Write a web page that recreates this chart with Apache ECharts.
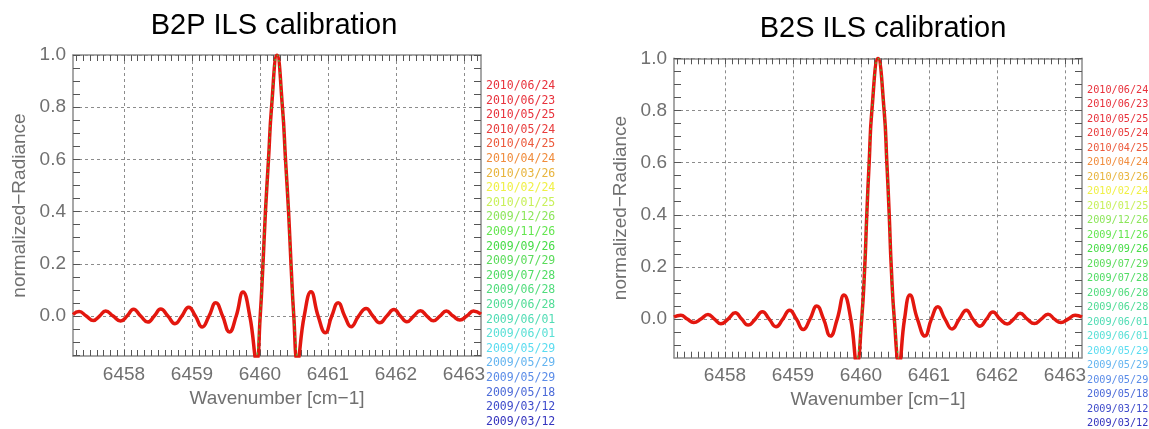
<!DOCTYPE html>
<html><head><meta charset="utf-8">
<script src="https://cdn.jsdelivr.net/npm/echarts@6/dist/echarts.min.js"></script>
<style>html,body{margin:0;padding:0;background:#fff}#c{width:1149px;height:429px}</style>
</head><body><div id="c"></div>
<script>
// ---- data ----
const titles = ['B2P ILS calibration', 'B2S ILS calibration'];
const xTickLabels = [6458, 6459, 6460, 6461, 6462, 6463];
const yTickLabels = [0.0, 0.2, 0.4, 0.6, 0.8, 1.0];
const legendDates = ['2010/06/24','2010/06/23','2010/05/25','2010/05/24','2010/04/25','2010/04/24','2010/03/26','2010/02/24','2010/01/25','2009/12/26','2009/11/26','2009/09/26','2009/07/29','2009/07/28','2009/06/28','2009/06/28','2009/06/01','2009/06/01','2009/05/29','2009/05/29','2009/05/29','2009/05/18','2009/03/12','2009/03/12'];
const legendColors = ['#e8323c','#e8323c','#e8323c','#e83c3c','#ec5a3c','#f08c3c','#e8b43c','#f0f046','#c8f05a','#8ce65a','#64e650','#46dc46','#5adc5a','#50dc64','#50dc7c','#50dc96','#50dcb4','#5ae0d6','#5adcf0','#64b4f0','#5a8ce8','#4b6ad8','#3f4ccb','#3434be'];

const b2pX = [6457.25,6457.34,6457.445,6457.55,6457.64,6457.73,6457.84,6457.95,6458.045,6458.14,6458.245,6458.35,6458.445,6458.54,6458.645,6458.75,6458.85,6458.95,6459.05,6459.15,6459.25,6459.35,6459.45,6459.55,6459.65,6459.75,6459.85,6459.95,6460.003,6460.044,6460.08,6460.125,6460.17,6460.25,6460.33,6460.375,6460.42,6460.456,6460.497,6460.55,6460.65,6460.75,6460.855,6460.96,6461.055,6461.15,6461.245,6461.34,6461.45,6461.56,6461.66,6461.76,6461.865,6461.97,6462.065,6462.16,6462.26,6462.36,6462.455,6462.55,6462.645,6462.74,6462.84,6462.94,6463.04,6463.14,6463.25];
const b2pY = [0.006,0.017,0,-0.017,0,0.019,0,-0.019,0,0.026,0,-0.023,0,0.027,0,-0.029,0,0.034,0,-0.042,0,0.051,0,-0.061,0,0.092,0,-0.17,0,0.2,0.4,0.6,0.8,1.0,0.8,0.6,0.4,0.2,0,-0.17,0,0.093,0,-0.064,0,0.051,0,-0.041,0,0.029,0,-0.026,0,0.025,0,-0.022,0,0.02,0,-0.018,0,0.019,0,-0.015,0,0.019,0.007];

const b2sX = [6457.25,6457.35,6457.445,6457.54,6457.645,6457.75,6457.845,6457.94,6458.045,6458.15,6458.245,6458.34,6458.445,6458.55,6458.65,6458.75,6458.85,6458.95,6459.05,6459.15,6459.25,6459.35,6459.45,6459.55,6459.65,6459.75,6459.85,6459.94,6460.01,6460.055,6460.085,6460.12,6460.16,6460.25,6460.34,6460.38,6460.415,6460.445,6460.49,6460.56,6460.64,6460.72,6460.83,6460.94,6461.035,6461.13,6461.235,6461.34,6461.445,6461.55,6461.645,6461.75,6461.845,6461.94,6462.045,6462.15,6462.245,6462.34,6462.445,6462.55,6462.65,6462.75,6462.845,6462.94,6463.045,6463.15,6463.25];
const b2sY = [0.008,0.015,0,-0.013,0,0.018,0,-0.018,0,0.024,0,-0.023,0,0.028,0,-0.029,0,0.034,0,-0.04,0,0.05,0,-0.065,0,0.092,0,-0.17,0,0.2,0.4,0.6,0.8,1.0,0.8,0.6,0.4,0.2,0,-0.17,0,0.092,0,-0.065,0,0.047,0,-0.038,0,0.034,0,-0.027,0,0.027,0,-0.019,0,0.022,0,-0.017,0,0.019,0,-0.013,0,0.015,0.008];

// ---- chart ----
const XMIN = 6457.25, XMAX = 6463.25;
const xMinor = []; for (let k = 0; k <= 59; k++) xMinor.push(+(6457.3 + k * 0.1).toFixed(2));
const yMinorAll = []; for (let k = 0; k <= 23; k++) yMinorAll.push(+(-0.15 + k * 0.05).toFixed(2));

const axisGray = '#8a8a8a';
const labelColor = '#707070';
const FONT = 'Liberation Sans';

const panels = [
  {x: b2pX, y: b2pY, left: 73, top: 55, width: 408, height: 301, ymin: -0.153, titleX: 274, titleY: 26, legX: 486, legY: 86, legStep: 14.6, legFont: 11.5},
  {x: b2sX, y: b2sY, left: 674, top: 58.3, width: 408, height: 299.4, ymin: -0.148, titleX: 883, titleY: 29, legX: 1087, legY: 90, legStep: 14.5, legFont: 10.2}
];

const grid = [], xAxis = [], yAxis = [], series = [], graphic = [];
panels.forEach((p, i) => {
  grid.push({left: p.left, top: p.top, width: p.width, height: p.height, containLabel: false});
  const yMinor = yMinorAll.filter(v => v >= p.ymin && v <= 1.0);
  xAxis.push({type: 'value', gridIndex: i, min: XMIN, max: XMAX, position: 'bottom',
    axisLine: {show: true, onZero: false, lineStyle: {color: axisGray, width: 1.5}},
    axisTick: {show: false, customValues: xTickLabels},
    axisLabel: {customValues: xTickLabels, color: labelColor, fontSize: 19, fontFamily: FONT, margin: 9, formatter: v => String(Math.round(v))},
    splitLine: {show: true, lineStyle: {color: '#8c8c8c', width: 1, type: [3, 3]}},
    name: 'Wavenumber [cm\u22121]', nameLocation: 'middle', nameGap: 32,
    nameTextStyle: {color: labelColor, fontSize: 19, fontFamily: FONT}
  });
  xAxis.push({type: 'value', gridIndex: i, min: XMIN, max: XMAX, position: 'bottom',
    axisLine: {show: false, onZero: false}, axisLabel: {show: false}, splitLine: {show: false},
    axisTick: {show: true, inside: true, length: 6, customValues: xMinor, lineStyle: {color: '#555', width: 1}}
  });
  xAxis.push({type: 'value', gridIndex: i, min: XMIN, max: XMAX, position: 'top',
    axisLine: {show: true, onZero: false, lineStyle: {color: axisGray, width: 1.5}}, axisLabel: {show: false}, splitLine: {show: false},
    axisTick: {show: true, inside: true, length: 6, customValues: xMinor, lineStyle: {color: '#555', width: 1}}
  });
  yAxis.push({type: 'value', gridIndex: i, min: p.ymin, max: 1.0, position: 'left',
    axisLine: {show: true, onZero: false, lineStyle: {color: axisGray, width: 1.5}},
    axisTick: {show: false, customValues: yTickLabels},
    axisLabel: {customValues: yTickLabels, color: labelColor, fontSize: 19, fontFamily: FONT, margin: 7, formatter: v => v.toFixed(1)},
    splitLine: {show: true, lineStyle: {color: '#8c8c8c', width: 1, type: [3, 3]}},
    name: 'normalized\u2212Radiance', nameLocation: 'middle', nameGap: 44,
    nameTextStyle: {color: labelColor, fontSize: 19, fontFamily: FONT}
  });
  yAxis.push({type: 'value', gridIndex: i, min: p.ymin, max: 1.0, position: 'left',
    axisLine: {show: false, onZero: false}, axisLabel: {show: false}, splitLine: {show: false},
    axisTick: {show: true, inside: true, length: 7, customValues: yMinor, lineStyle: {color: '#555', width: 1}}
  });
  yAxis.push({type: 'value', gridIndex: i, min: p.ymin, max: 1.0, position: 'right',
    axisLine: {show: true, onZero: false, lineStyle: {color: axisGray, width: 1.5}}, axisLabel: {show: false}, splitLine: {show: false},
    axisTick: {show: true, inside: true, length: 7, customValues: yMinor, lineStyle: {color: '#555', width: 1}}
  });

  const pts = p.x.map((xv, k) => [xv, p.y[k]]);
  series.push({type: 'line', xAxisIndex: 3 * i, yAxisIndex: 3 * i, data: pts, smooth: 0.5,
    symbol: 'none', clip: true, lineStyle: {color: '#e3170f', width: 3.5}, z: 3});
  series.push({type: 'line', xAxisIndex: 3 * i, yAxisIndex: 3 * i,
    data: pts.filter(d => d[0] >= 6459.94 && d[0] <= 6460.56), smooth: 0.5,
    symbol: 'none', clip: true, lineStyle: {color: '#3cc83c', width: 1.2, type: [2, 4]}, z: 4});

  graphic.push({type: 'text', x: p.titleX, y: p.titleY, style: {text: titles[i], fill: '#000', font: '29px "Liberation Sans"', textAlign: 'center', textVerticalAlign: 'middle'}});
  legendDates.forEach((d, k) => {
    graphic.push({type: 'text', x: p.legX, y: p.legY + k * p.legStep,
      style: {text: d, fill: legendColors[k], font: p.legFont + 'px "DejaVu Sans Mono"', textAlign: 'left', textVerticalAlign: 'middle'}});
  });
});

const chart = echarts.init(document.getElementById('c'), null, {renderer: 'canvas'});
chart.setOption({animation: false, backgroundColor: '#fff', grid, xAxis, yAxis, series, graphic});
</script></body></html>
